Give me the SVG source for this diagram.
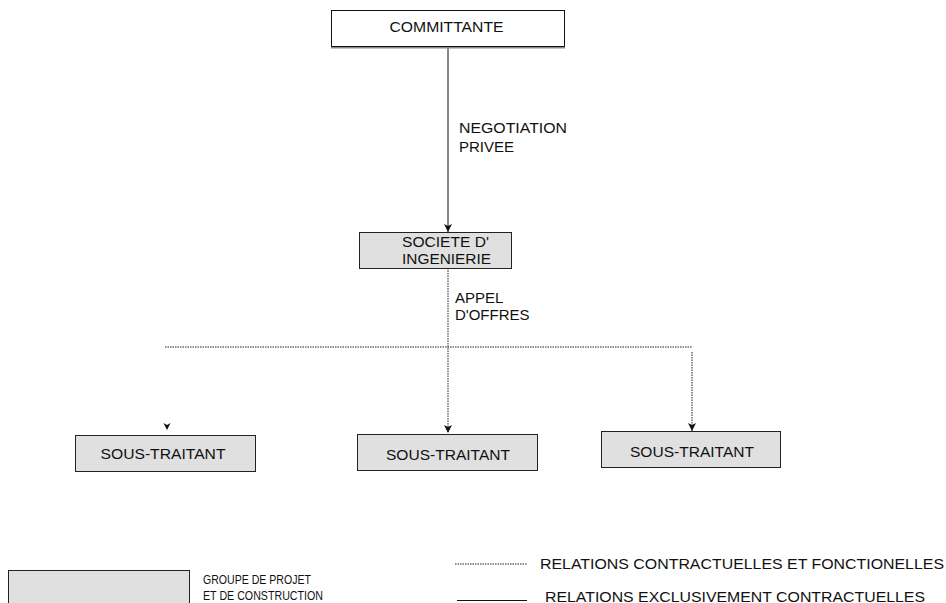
<svg xmlns="http://www.w3.org/2000/svg" width="946" height="603" viewBox="0 0 946 603">
  <style>
    text { font-family: "Liberation Sans", Arial, sans-serif; font-size: 15px; fill: #111; }
    .small { font-size: 13.5px; }
    .box { fill: #ffffff; stroke: #111; stroke-width: 1; }
    .gbox { fill: #e0e0e0; stroke: #222; stroke-width: 1; }
    .shadow { fill: #8a8a8a; }
    .solid { fill: none; stroke: #111; stroke-width: 1; }
    .dot { fill: none; stroke: #222; stroke-width: 1; stroke-dasharray: 1.5 1; }
    .head { fill: #111; }
  </style>
  <defs>
    <marker id="arr" viewBox="0 0 8 8" refX="8" refY="4" markerWidth="8" markerHeight="8" markerUnits="userSpaceOnUse" orient="auto">
      <path d="M0,0 L8,4 L0,8 L2,4 z" class="head"/>
    </marker>
  </defs>

  <!-- connectors -->
  <g id="connectors">
    <path class="solid" d="M448,47 V232" marker-end="url(#arr)"/>
    <path class="dot" d="M448,268 V433" marker-end="url(#arr)"/>
    <path class="dot" d="M165,347 H692"/>
    <path class="dot" d="M692,352 V431" marker-end="url(#arr)"/>
    <path class="head" d="M163.5,423 L167,430 L170.5,423 L167,425 z"/>
    <text x="459" y="133" textLength="108" lengthAdjust="spacingAndGlyphs">NEGOTIATION</text>
    <text x="459" y="152">PRIVEE</text>
    <text x="455" y="303">APPEL</text>
    <text x="455" y="320">D'OFFRES</text>
  </g>

  <!-- nodes -->
  <g id="committante">
    <rect class="shadow" x="331" y="12" width="234" height="36.5"/>
    <rect class="box" x="331.5" y="10.5" width="233" height="36"/>
    <text x="446.5" y="32" text-anchor="middle" textLength="114" lengthAdjust="spacingAndGlyphs">COMMITTANTE</text>
  </g>

  <g id="societe">
    <rect class="gbox" x="359.5" y="232.5" width="152" height="36"/>
    <text x="402" y="247" textLength="87" lengthAdjust="spacingAndGlyphs">SOCIETE D'</text>
    <text x="402" y="264" textLength="89" lengthAdjust="spacingAndGlyphs">INGENIERIE</text>
  </g>

  <g id="sous-traitant-1">
    <rect class="gbox" x="75.5" y="435.5" width="180" height="36"/>
    <text x="163" y="459" text-anchor="middle" textLength="125" lengthAdjust="spacingAndGlyphs">SOUS-TRAITANT</text>
  </g>

  <g id="sous-traitant-2">
    <rect class="gbox" x="357.5" y="434.5" width="180" height="36"/>
    <text x="448" y="460" text-anchor="middle" textLength="124" lengthAdjust="spacingAndGlyphs">SOUS-TRAITANT</text>
  </g>

  <g id="sous-traitant-3">
    <rect class="gbox" x="601.5" y="431.5" width="179" height="36"/>
    <text x="692" y="457" text-anchor="middle" textLength="124" lengthAdjust="spacingAndGlyphs">SOUS-TRAITANT</text>
  </g>

  <!-- legend -->
  <g id="legend">
    <rect class="gbox" x="8.5" y="570.5" width="181" height="40"/>
    <text class="small" x="203" y="584" textLength="108" lengthAdjust="spacingAndGlyphs">GROUPE DE PROJET</text>
    <text class="small" x="203" y="600" textLength="120" lengthAdjust="spacingAndGlyphs">ET DE CONSTRUCTION</text>
    <path class="dot" d="M455,564 H527"/>
    <text x="540" y="569" textLength="404" lengthAdjust="spacingAndGlyphs">RELATIONS CONTRACTUELLES ET FONCTIONELLES</text>
    <path class="solid" d="M457,600.5 H527"/>
    <text x="545" y="602" textLength="380" lengthAdjust="spacingAndGlyphs">RELATIONS EXCLUSIVEMENT CONTRACTUELLES</text>
  </g>
</svg>
